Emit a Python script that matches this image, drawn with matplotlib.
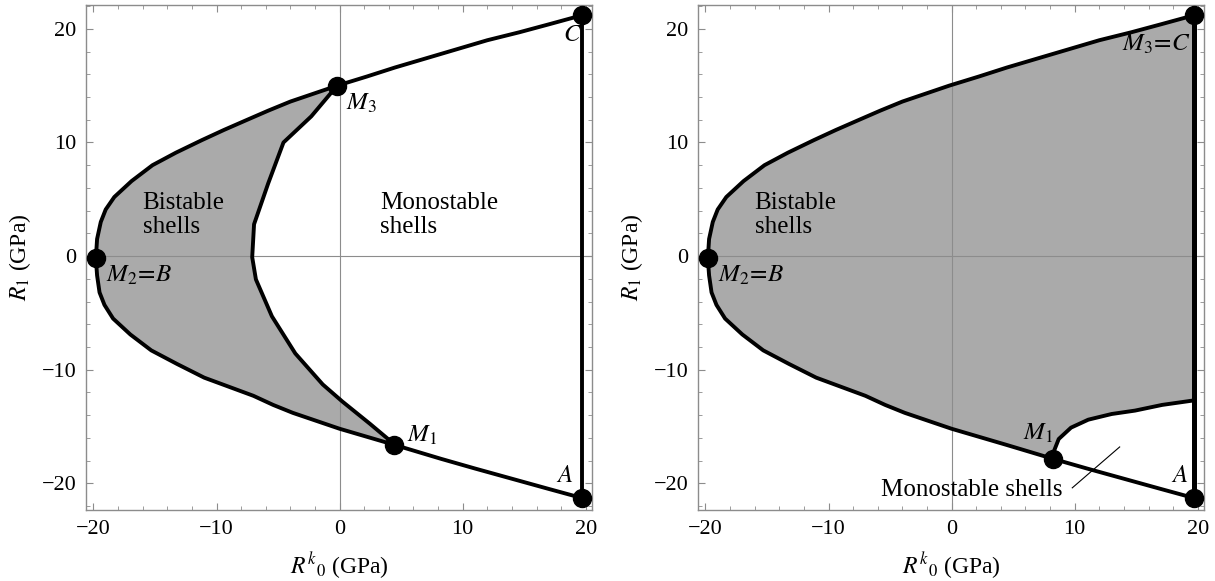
import matplotlib.pyplot as plt
from matplotlib.ticker import MultipleLocator

plt.rcParams['font.family'] = ['Liberation Serif', 'DejaVu Serif']
plt.rcParams['mathtext.fontset'] = 'stix'

# outer boundary, read from C (top right) round the vertex to A (bottom right)
outer_x = [19.7, 17.0, 14.6, 12.0, 9.5, 7.0, 4.5, 2.2, -0.2, -2.1, -4.0, -5.8, -7.5, -9.4,
           -11.2, -13.3, -15.2, -16.9, -18.3, -19.0, -19.4, -19.7, -19.8, -19.7, -19.5,
           -19.1, -18.4, -17.0, -15.3, -13.2, -11.0, -9.0, -7.0, -5.4, -3.8, -1.9, 0.0,
           2.2, 4.4, 8.25, 11.0, 14.0, 17.0, 19.7]
outer_y = [21.2, 20.4, 19.7, 19.0, 18.2, 17.4, 16.6, 15.8, 15.0, 14.3, 13.6, 12.8, 12.0, 11.1,
           10.2, 9.1, 8.0, 6.6, 5.2, 4.1, 3.0, 1.5, -0.2, -1.7, -3.2,
           -4.3, -5.5, -6.9, -8.3, -9.5, -10.7, -11.5, -12.3, -13.1, -13.8, -14.5, -15.2,
           -15.9, -16.6, -17.85, -18.7, -19.6, -20.5, -21.3]
i_M3 = outer_y.index(15.0)
i_M2 = outer_y.index(-0.2)
i_M1a = outer_y.index(-16.6)    # M1 of the left panel
i_M1b = outer_y.index(-17.85)   # M1 of the right panel

# left panel: inner boundary from M1 up to M3
inner_l_x = [4.43, 2.46, 0.22, -1.37, -3.6, -5.5, -6.8, -7.1, -6.95, -5.8, -4.56, -2.3, -0.2]
inner_l_y = [-16.55, -14.76, -12.8, -11.3, -8.57, -5.3, -2.05, -0.1, 2.8, 6.4, 10.0, 12.3, 15.0]

# right panel: boundary from M1 to the line x = 19.7
inner_r_x = [8.25, 8.3, 8.7, 9.7, 11.1, 13.0, 14.9, 17.1, 19.7]
inner_r_y = [-17.85, -17.2, -16.1, -15.1, -14.4, -13.9, -13.6, -13.1, -12.7]

leader_x = [9.8, 13.65]
leader_y = [-20.4, -16.8]

GRAY = '#aaaaaa'
FRAME = '#8c8c8c'


def setup(ax):
    ax.set_xlim(-20.6, 20.5)
    ax.set_ylim(-22.35, 22.1)
    ax.axhline(0, color='#8c8c8c', lw=0.8, zorder=2.5)
    ax.axvline(0, color='#8c8c8c', lw=0.8, zorder=2.5)
    for s in ax.spines.values():
        s.set_color(FRAME)
        s.set_linewidth(1.0)
    ax.xaxis.set_major_locator(MultipleLocator(10))
    ax.yaxis.set_major_locator(MultipleLocator(10))
    ax.xaxis.set_minor_locator(MultipleLocator(2))
    ax.yaxis.set_minor_locator(MultipleLocator(2))
    ax.tick_params(which='both', direction='in', top=True, right=True, color=FRAME)
    ax.tick_params(which='major', length=5, width=0.8, labelsize=16, pad=7)
    ax.tick_params(which='minor', length=3, width=0.6)
    ax.set_xlabel(r'${R^{k}}_{0}$ (GPa)', fontsize=17, labelpad=8)
    ax.set_ylabel(r'$R_{1}$ (GPa)', fontsize=17, labelpad=6)


fig = plt.figure(figsize=(12.15, 5.81), dpi=100)
ax1 = fig.add_axes([86 / 1215, 71 / 581, 506 / 1215, 505 / 581])
ax2 = fig.add_axes([698 / 1215, 71 / 581, 506 / 1215, 505 / 581])

lw = 2.8
ms = 13
txt = dict(fontsize=18, va='center')

# ---- left panel
setup(ax1)
poly_x = outer_x[i_M3:i_M1a + 1] + inner_l_x
poly_y = outer_y[i_M3:i_M1a + 1] + inner_l_y
ax1.fill(poly_x, poly_y, color=GRAY, lw=0, zorder=2)
ax1.plot(outer_x, outer_y, color='black', lw=lw, zorder=3, solid_joinstyle='round')
ax1.plot(inner_l_x, inner_l_y, color='black', lw=lw, zorder=3, solid_joinstyle='round')
ax1.plot([outer_x[0], outer_x[-1]], [outer_y[0], outer_y[-1]], color='black', lw=lw, zorder=3)
pts = [0, i_M3, i_M2, i_M1a, len(outer_x) - 1]
ax1.plot([outer_x[i] for i in pts], [outer_y[i] for i in pts], 'o', color='black', ms=ms, zorder=4)
ax1.text(-16.0, 3.6, 'Bistable\nshells', ha='left', linespacing=1.15, **txt)
ax1.text(3.3, 3.6, 'Monostable\nshells', ha='left', linespacing=1.15, **txt)
ax1.text(0.5, 13.4, r'$M_{\mathit{3}}$', ha='left', **txt)
ax1.text(-19.0, -1.7, r'$M_{\mathit{2}}\!=\!B$', ha='left', **txt)
ax1.text(5.5, -15.8, r'$M_{\mathit{1}}$', ha='left', **txt)
ax1.text(18.9, 19.5, r'$C$', ha='center', **txt)
ax1.text(18.3, -19.4, r'$A$', ha='center', **txt)

# ---- right panel
setup(ax2)
poly_x = outer_x[:i_M1b + 1] + inner_r_x
poly_y = outer_y[:i_M1b + 1] + inner_r_y
ax2.fill(poly_x, poly_y, color=GRAY, lw=0, zorder=2)
ax2.plot(outer_x, outer_y, color='black', lw=lw, zorder=3, solid_joinstyle='round')
ax2.plot(inner_r_x, inner_r_y, color='black', lw=lw, zorder=3, solid_joinstyle='round')
ax2.plot([outer_x[0], outer_x[-1]], [outer_y[0], outer_y[-1]], color='black', lw=lw + 0.8, zorder=3)
pts = [0, i_M2, i_M1b, len(outer_x) - 1]
ax2.plot([outer_x[i] for i in pts], [outer_y[i] for i in pts], 'o', color='black', ms=ms, zorder=4)
ax2.plot(leader_x, leader_y, color='black', lw=0.8, zorder=3)
ax2.text(-16.0, 3.6, 'Bistable\nshells', ha='left', linespacing=1.15, **txt)
ax2.text(19.4, 18.6, r'$M_{\mathit{3}}\!=\!C$', ha='right', **txt)
ax2.text(-19.0, -1.7, r'$M_{\mathit{2}}\!=\!B$', ha='left', **txt)
ax2.text(7.0, -15.6, r'$M_{\mathit{1}}$', ha='center', **txt)
ax2.text(18.5, -19.4, r'$A$', ha='center', **txt)
ax2.text(1.65, -20.6, 'Monostable shells', ha='center', **txt)

fig.savefig('out.png', dpi=100)
